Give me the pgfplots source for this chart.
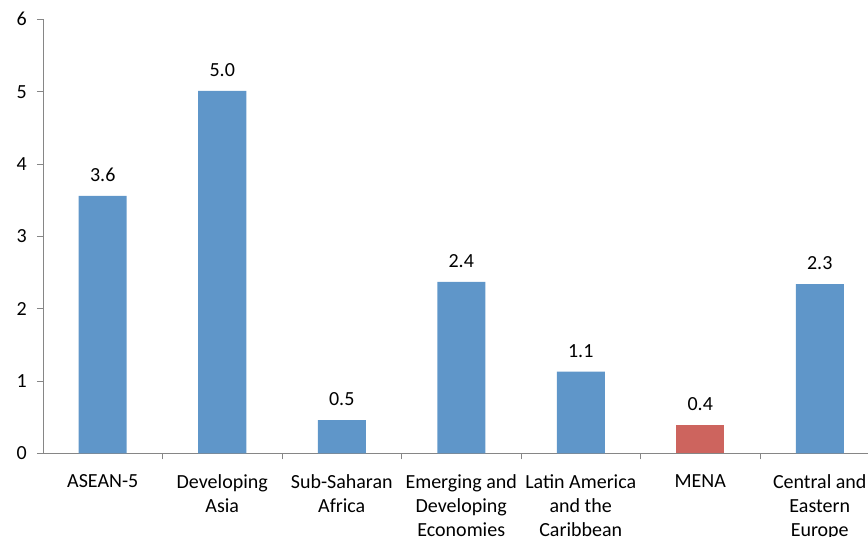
\documentclass[border=0pt]{standalone}
\usepackage{fontspec}
\setmainfont{Carlito}
\usepackage{pgfplots}
\pgfplotsset{compat=1.18}
\definecolor{barblue}{RGB}{95,150,201}
\definecolor{barred}{RGB}{205,100,94}
\definecolor{axisgray}{RGB}{134,134,134}
\begin{document}
\begin{tikzpicture}
% visible window of the chart
\clip (-43pt,-83.5pt) rectangle (825pt,453.5pt);
\begin{axis}[
  scale only axis,
  width=836.5pt, height=434.2pt,
  at={(0pt,0pt)}, anchor=south west,
  xmin=-0.5, xmax=6.5, ymin=0, ymax=6,
  axis x line*=bottom, axis y line*=left,
  axis line style={draw=axisgray, line width=0.8pt, -},
  ybar,
  font=\fontsize{20}{24}\selectfont,
  /pgf/number format/assume math mode=true,
  ytick={0,1,...,6},
  xtick={0,1,...,6},
  xticklabels={ASEAN-5, {Developing\\Asia}, {Sub-Saharan\\Africa},
    {Emerging and\\Developing\\Economies}, {Latin America\\and the\\Caribbean},
    MENA, {Central and\\Eastern\\Europe}},
  minor xtick={0.5,1.5,...,5.5},
  major tick length=6pt, minor tick length=6pt,
  tick align=outside,
  tick style={draw=axisgray, line width=0.8pt},
  major x tick style={draw=none},
  xticklabel style={align=center, anchor=north, inner sep=0pt, yshift=-15pt},
  yticklabel style={inner sep=0pt, xshift=-10pt},
  nodes near coords={\pgfmathprintnumber[fixed,fixed zerofill,precision=1]{\pgfplotspointmeta}},
  every node near coord/.append style={anchor=south, inner sep=0pt, yshift=14pt,
    font=\fontsize{20}{24}\selectfont},
]
\addplot[fill=barblue, draw=none, bar width=48pt, bar shift=0pt]
  coordinates {(0,3.56) (1,5.01) (2,0.46) (3,2.37) (4,1.13) (6,2.34)};
\addplot[fill=barred, draw=none, bar width=48pt, bar shift=0pt]
  coordinates {(5,0.40)};
\end{axis}
\end{tikzpicture}
\end{document}
